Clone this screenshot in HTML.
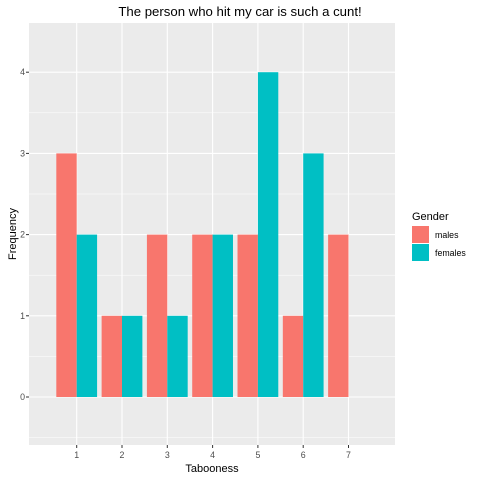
<!DOCTYPE html>
<html><head><meta charset="utf-8"><style>
body{margin:0;background:#fff;font-family:"Liberation Sans",Arial,sans-serif}
</style></head><body>
<svg width="480" height="480" xmlns="http://www.w3.org/2000/svg" font-family="Liberation Sans, Arial, sans-serif">
<text x="240" y="16" text-anchor="middle" font-size="13.2" fill="#000">The person who hit my car is such a cunt!</text>
<rect x="29" y="23" width="366" height="422" fill="#EBEBEB"/>
<g id="grid"></g>
<g id="bars"></g>
<g id="axes"></g>
<text x="212" y="472" text-anchor="middle" font-size="11" fill="#000">Tabooness</text>
<text transform="translate(16,234) rotate(-90)" text-anchor="middle" font-size="11" fill="#000">Frequency</text>
<g>
<text x="412" y="220" font-size="11" fill="#000">Gender</text>
<rect x="412" y="226" width="17" height="17" fill="#F8766D"/>
<text x="435" y="238" font-size="8.8" fill="#000">males</text>
<rect x="412" y="244" width="17" height="17" fill="#00BFC4"/>
<text x="435" y="256" font-size="8.8" fill="#000">females</text>
</g>
</svg>
<script>
const categories=[1,2,3,4,5,6,7];
const males=[3,1,2,2,2,1,2];
const females=[2,1,1,2,4,3,null];
const yTicks=[0,1,2,3,4];
const NS="http://www.w3.org/2000/svg";
function xs(c){return 76.7+(c-1)*45.3;}
function ys(v){return 397-81.2*v;}
function mk(t,a,p){const e=document.createElementNS(NS,t);for(const k in a)e.setAttribute(k,a[k]);p.appendChild(e);return e;}
const g=document.getElementById('grid'),b=document.getElementById('bars'),ax=document.getElementById('axes');
yTicks.forEach(v=>{
 const l=mk('line',{x1:29,x2:395,y1:ys(v),y2:ys(v),stroke:'#fff','stroke-width':1.1},g);
 
 
 if(v<4){const m=mk('line',{x1:29,x2:395,y1:ys(v+0.5),y2:ys(v+0.5),stroke:'#fff','stroke-width':0.5},g);
 
 }
 const t=mk('text',{x:25,y:ys(v)+3,'text-anchor':'end','font-size':8.8,fill:'#4D4D4D'},ax);t.textContent=v;
 
 
 mk('line',{x1:26,x2:29,y1:ys(v),y2:ys(v),stroke:'#333'},ax);
});
const mm=mk('line',{x1:29,x2:395,y1:ys(-0.5),y2:ys(-0.5),stroke:'#fff','stroke-width':0.5},g);


categories.forEach(c=>{
 const l=mk('line',{x1:xs(c),x2:xs(c),y1:23,y2:445,stroke:'#fff','stroke-width':1.1},g);
 
 
 mk('line',{x1:xs(c),x2:xs(c),y1:445,y2:448,stroke:'#333'},ax);
 const t=mk('text',{x:xs(c),y:458,'text-anchor':'middle','font-size':8.8,fill:'#4D4D4D'},ax);t.textContent=c;
 
 
});
const w=0.45*45.3;
categories.forEach((c,i)=>{
 if(males[i]!=null){const r=mk('rect',{x:xs(c)-w,y:ys(males[i]),width:w,height:ys(0)-ys(males[i]),fill:'#F8766D'},b);
 
 }
 if(females[i]!=null){const r=mk('rect',{x:xs(c),y:ys(females[i]),width:w,height:ys(0)-ys(females[i]),fill:'#00BFC4'},b);
 
 }
});
</script>
</body></html>
